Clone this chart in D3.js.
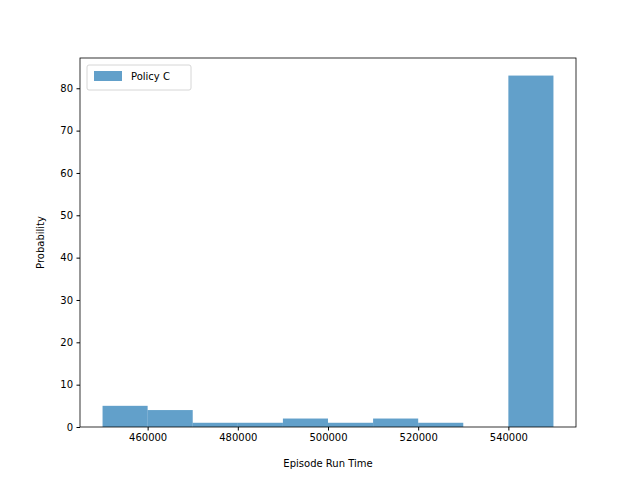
<!DOCTYPE html>
<html>
<head>
<meta charset="utf-8">
<script src="https://cdn.jsdelivr.net/npm/d3@7"></script>
<style>
body { margin: 0; background: #fff; }
text { font-family: "DejaVu Sans", sans-serif; }
</style>
</head>
<body>
<script>
// histogram bins (left edges) and counts
const binEdges = [450000, 460000, 470000, 480000, 490000, 500000, 510000, 520000, 530000, 540000, 550000];
const counts = [5, 4, 1, 1, 2, 1, 2, 1, 0, 83];
const xTicks = [460000, 480000, 500000, 520000, 540000];
const yTicks = [0, 10, 20, 30, 40, 50, 60, 70, 80];

const W = 640, H = 480;
const m = {left: 80, right: 64, top: 58, bottom: 53};

const svg = d3.select('body').append('svg')
	.attr('width', W).attr('height', H);

const x = d3.scaleLinear().domain([445000, 555000]).range([m.left, W - m.right]);
const y = d3.scaleLinear().domain([0, 83 * 1.05]).range([H - m.bottom, m.top]);

svg.append('g').selectAll('rect')
	.data(counts)
	.enter().append('rect')
	.attr('x', (d, i) => x(binEdges[i]))
	.attr('width', (d, i) => x(binEdges[i + 1]) - x(binEdges[i]))
	.attr('y', d => y(d))
	.attr('height', d => y(0) - y(d))
	.attr('fill', '#1f77b4')
	.attr('fill-opacity', 0.7);

const xAxis = svg.append('g')
	.attr('transform', 'translate(0,' + (H - m.bottom) + ')')
	.call(d3.axisBottom(x).tickValues(xTicks).tickFormat(d3.format('d')).tickSizeOuter(0).tickSize(3.5).tickPadding(3.5));
const yAxis = svg.append('g')
	.attr('transform', 'translate(' + m.left + ',0)')
	.call(d3.axisLeft(y).tickValues(yTicks).tickSizeOuter(0).tickSize(3.5).tickPadding(3.5));
[xAxis, yAxis].forEach(a => {
	a.selectAll('text').attr('font-size', 10).attr('fill', '#000');
	a.select('.domain').remove();
});

svg.append('rect')
	.attr('x', m.left).attr('y', m.top)
	.attr('width', W - m.left - m.right).attr('height', H - m.top - m.bottom)
	.attr('fill', 'none').attr('stroke', '#000').attr('stroke-width', 0.8);

svg.append('text')
	.attr('x', (m.left + W - m.right) / 2).attr('y', H - 13)
	.attr('text-anchor', 'middle').attr('font-size', 10)
	.text('Episode Run Time');
svg.append('text')
	.attr('transform', 'translate(44,' + ((m.top + H - m.bottom) / 2) + ') rotate(-90)')
	.attr('text-anchor', 'middle').attr('font-size', 10)
	.text('Probability');

// legend
const lg = svg.append('g').attr('transform', 'translate(87,65)');
lg.append('rect').attr('width', 104).attr('height', 25).attr('rx', 2)
	.attr('fill', '#fff').attr('fill-opacity', 0.8).attr('stroke', '#ccc').attr('stroke-width', 0.8);
lg.append('rect').attr('x', 7).attr('y', 6).attr('width', 28).attr('height', 10)
	.attr('fill', '#1f77b4').attr('fill-opacity', 0.7);
lg.append('text').attr('x', 44).attr('y', 15).attr('font-size', 10).text('Policy C');
</script>
</body>
</html>
